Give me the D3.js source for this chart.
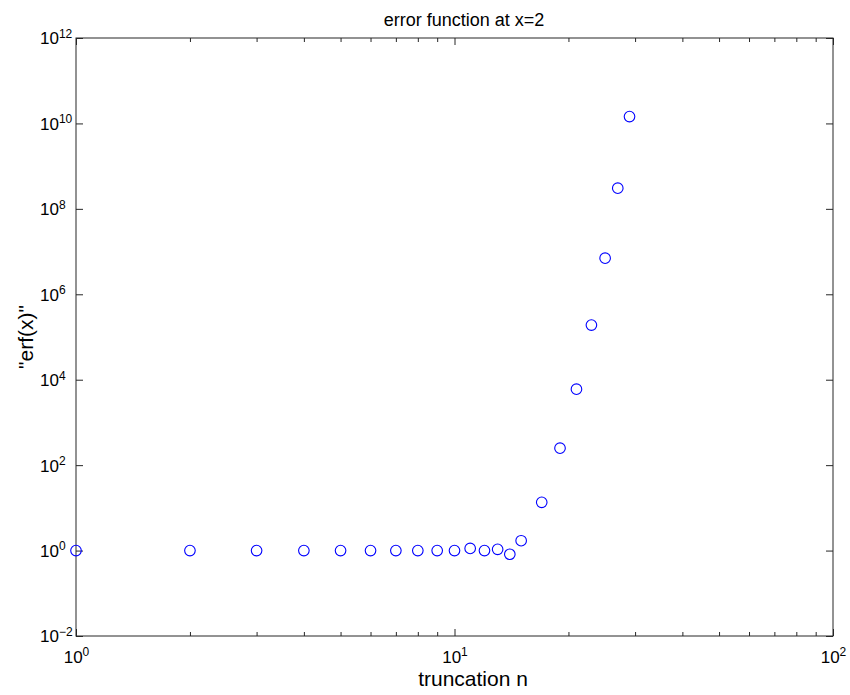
<!DOCTYPE html>
<html>
<head>
<meta charset="utf-8">
<script src="https://cdn.jsdelivr.net/npm/d3@7"></script>
<style>
	body { margin: 0; background: #fff; }
	svg text { font-family: "Liberation Sans", Helvetica, Arial, sans-serif; fill: #000; }
	.axis path, .axis line { stroke: #262626; }
</style>
</head>
<body>
<svg width="850" height="695"></svg>
<script>
// truncation n and the value of the truncated series
var truncN = [1, 2, 3, 4, 5, 6, 7, 8, 9, 10, 11, 12, 13, 14, 15, 17, 19, 21, 23, 25, 27, 29];
var erfVals = [1.0, 1.0, 1.0, 1.0, 1.0, 1.0, 1.0, 1.0, 1.0, 1.0, 1.12, 1.0, 1.07, 0.82, 1.7, 13.5, 250, 6000, 1.9e5, 7e6, 3.05e8, 1.45e10];

var xMajor = [1, 10, 100];
var xMinor = [2, 3, 4, 5, 6, 7, 8, 9, 20, 30, 40, 50, 60, 70, 80, 90];
var yMajor = [1e-2, 1, 1e2, 1e4, 1e6, 1e8, 1e10, 1e12];

var titleText = 'error function at x=2';
var xLabelText = 'truncation n';
var yLabelText = '"erf(x)"';

var box = { left: 76, right: 833, top: 38, bottom: 636 };

var svg = d3.select('svg');

var x = d3.scaleLog().domain([1, 100]).range([box.left, box.right]);
var y = d3.scaleLog().domain([1e-2, 1e12]).range([box.bottom, box.top]);

// power-of-ten label with superscript
function powLabel(sel){
	sel.each(function(d){
		var t = d3.select(this);
		t.text('10');
		t.append('tspan')
			.attr('dy', '-0.55em')
			.style('font-size', '12px')
			.text(String(Math.round(Math.log10(d))).replace('-', '\u2212'));
	});
}

// box frame
svg.append('rect')
	.attr('x', box.left).attr('y', box.top)
	.attr('width', box.right - box.left).attr('height', box.bottom - box.top)
	.attr('fill', 'none').attr('stroke', '#262626').attr('stroke-width', 1);

//bottom axis
var gx = svg.append('g').attr('class', 'axis')
	.attr('transform', 'translate(0,' + box.bottom + ')')
	.call(d3.axisBottom(x).tickValues(xMajor).tickSizeInner(-7).tickSizeOuter(0).tickFormat(''));
gx.selectAll('.tick text').remove();
gx.selectAll('.tick').append('text')
	.attr('y', 27)
	.attr('text-anchor', 'middle')
	.style('font-size', '17px')
	.call(powLabel);
svg.append('g').attr('class', 'axis')
	.attr('transform', 'translate(0,' + box.bottom + ')')
	.call(d3.axisBottom(x).tickValues(xMinor).tickSizeInner(-4).tickSizeOuter(0).tickFormat(''));

//top axis
svg.append('g').attr('class', 'axis')
	.attr('transform', 'translate(0,' + box.top + ')')
	.call(d3.axisTop(x).tickValues(xMajor).tickSizeInner(-7).tickSizeOuter(0).tickFormat(''));
svg.append('g').attr('class', 'axis')
	.attr('transform', 'translate(0,' + box.top + ')')
	.call(d3.axisTop(x).tickValues(xMinor).tickSizeInner(-4).tickSizeOuter(0).tickFormat(''));

//left axis - the "10" sits at a fixed spot, exponent hangs to the right
var gy = svg.append('g').attr('class', 'axis')
	.attr('transform', 'translate(' + box.left + ',0)')
	.call(d3.axisLeft(y).tickValues(yMajor).tickSizeInner(-7).tickSizeOuter(0).tickFormat(''));
gy.selectAll('.tick text').remove();
gy.selectAll('.tick').append('text')
	.attr('x', -36)
	.attr('dy', '0.35em')
	.attr('text-anchor', 'start')
	.style('font-size', '17px')
	.call(powLabel);

//right axis
svg.append('g').attr('class', 'axis')
	.attr('transform', 'translate(' + box.right + ',0)')
	.call(d3.axisRight(y).tickValues(yMajor).tickSizeInner(-7).tickSizeOuter(0).tickFormat(''));

svg.selectAll('.axis .domain').remove();

//points
svg.append('g').selectAll('circle')
	.data(truncN)
	.enter()
	.append('circle')
	.attr('cx', function(d){ return x(d); })
	.attr('cy', function(d, i){ return y(erfVals[i]); })
	.attr('r', 5.3)
	.attr('fill', 'none')
	.attr('stroke', '#0000ff')
	.attr('stroke-width', 1.1);

//labels
svg.append('text')
	.attr('x', 464).attr('y', 26)
	.attr('text-anchor', 'middle')
	.style('font-size', '18px')
	.text(titleText);

svg.append('text')
	.attr('x', 473).attr('y', 686)
	.attr('text-anchor', 'middle')
	.style('font-size', '21px')
	.text(xLabelText);

svg.append('text')
	.attr('transform', 'translate(33,' + ((box.top + box.bottom) / 2) + ') rotate(-90)')
	.attr('text-anchor', 'middle')
	.style('font-size', '21px')
	.text(yLabelText);
</script>
</body>
</html>
